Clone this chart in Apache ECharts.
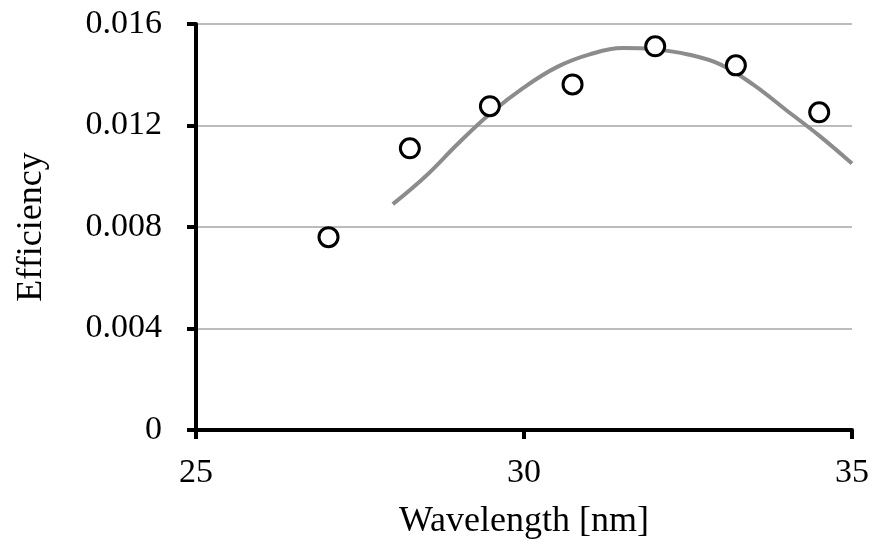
<!DOCTYPE html>
<html>
<head>
<meta charset="utf-8">
<script src="https://cdn.jsdelivr.net/npm/echarts@6/dist/echarts.min.js"></script>
<style>
  html, body { margin: 0; padding: 0; background: #fff; }
  #chart { width: 872px; height: 547px; }
</style>
</head>
<body>
<div id="chart"></div>
<script>
// measured points
const measuredX = [27.02, 28.26, 29.48, 30.74, 32.0, 33.23, 34.5];
const measuredY = [0.0076, 0.0111, 0.01276, 0.01362, 0.01512, 0.01437, 0.01252];

// fitted curve
const fitX = [28, 28.5, 29, 29.5, 30, 30.5, 31, 31.5, 32, 32.5, 33, 33.5, 34, 34.5, 35];
const fitY = [0.0089, 0.0100, 0.0113, 0.0125, 0.0135, 0.0143, 0.0148, 0.01505, 0.0150, 0.0148, 0.0144, 0.0136, 0.0126, 0.0116, 0.0105];

const yTicks = [0, 0.004, 0.008, 0.012, 0.016];

const font = "Liberation Serif";
const myCharts = echarts.init(document.getElementById("chart"));

let options = {
  animation: false,
  grid: { left: 196, right: 16, top: 24, bottom: 117 },
  xAxis: {
    type: "value",
    min: 25,
    max: 35,
    interval: 5,
    name: "Wavelength [nm]",
    nameLocation: "middle",
    nameGap: 74,
    nameTextStyle: { fontFamily: font, fontSize: 36, color: "#000" },
    axisLine: { show: true, lineStyle: { color: "#000", width: 4 } },
    axisTick: { show: true, length: 9, lineStyle: { color: "#000", width: 4 } },
    axisLabel: { fontFamily: font, fontSize: 34, color: "#000", margin: 26 },
    splitLine: { show: false },
  },
  yAxis: {
    type: "value",
    min: 0,
    max: 0.016,
    interval: 0.004,
    name: "Efficiency",
    nameLocation: "middle",
    nameGap: 146,
    nameTextStyle: { fontFamily: font, fontSize: 36, color: "#000" },
    axisLine: { show: true, lineStyle: { color: "#000", width: 4 } },
    axisTick: { show: true, length: 9, lineStyle: { color: "#000", width: 4 } },
    axisLabel: {
      fontFamily: font,
      fontSize: 34,
      color: "#000",
      margin: 34,
      formatter: (v) => {
        let t = yTicks.find((k) => Math.abs(k - v) < 1e-9);
        return t === 0 ? "0" : t.toFixed(3);
      },
    },
    splitLine: { show: true, lineStyle: { color: "#a6a6a6", width: 1.5 } },
  },
  series: [
    {
      type: "line",
      data: fitX.map((x, i) => [x, fitY[i]]),
      smooth: 0.4,
      showSymbol: false,
      lineStyle: { color: "#8c8c8c", width: 4 },
      z: 2,
    },
    {
      type: "scatter",
      data: measuredX.map((x, i) => [x, measuredY[i]]),
      symbol: "circle",
      symbolSize: 19,
      itemStyle: { color: "#fff", borderColor: "#000", borderWidth: 3, opacity: 1 },
      z: 3,
    },
  ],
};
myCharts.setOption(options, true);
</script>
</body>
</html>
